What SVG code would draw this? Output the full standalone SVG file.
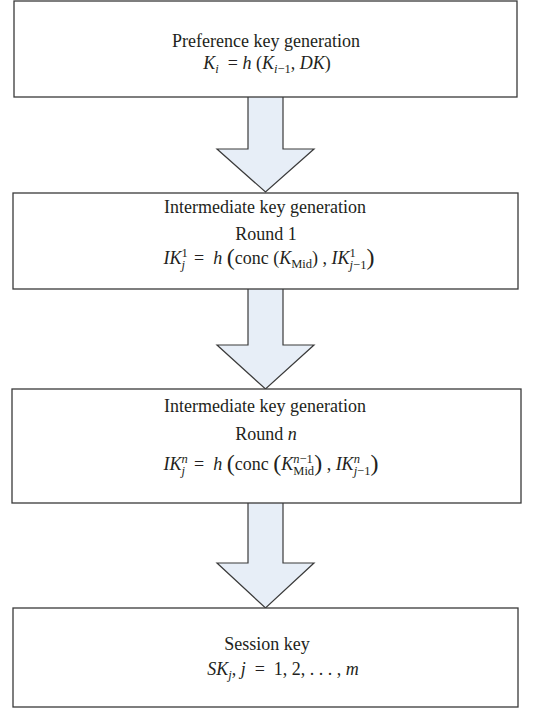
<svg xmlns="http://www.w3.org/2000/svg" width="544" height="708" viewBox="0 0 544 708">
<style>
.box{fill:#fff;stroke:#3a3a3a;stroke-width:1.3}
.arr{fill:#e7eef7;stroke:#3a3a3a;stroke-width:1.2;stroke-linejoin:miter}
text{font-family:"Liberation Serif","Times New Roman",serif;font-size:18px;fill:#231f20;text-anchor:middle}
.i{font-style:italic}
.s{font-size:12.5px}
.p{font-size:24px}
</style>
<rect width="544" height="708" fill="#fff"/>
<g id="connectors">
<path class="arr" d="M248,97 L248,149 L217,149 L265.5,192 L314,149 L283,149 L283,97"/>
<path class="arr" d="M248,289 L248,345 L217,345 L265.5,389 L314,345 L283,345 L283,289"/>
<path class="arr" d="M248,503 L248,563 L217,563 L265.5,608 L314,563 L283,563 L283,503"/>
</g>
<g id="node1">
<rect class="box" x="14" y="1" width="503" height="96"/>
<text x="266" y="47">Preference key generation</text>
<text x="267" y="69"><tspan class="i">K</tspan><tspan class="i s" dy="3.5">i</tspan><tspan dy="-3.5">&#160;&#160;=&#160;</tspan><tspan class="i">h</tspan>&#160;(<tspan class="i">K</tspan><tspan class="i s" dy="3.5">i</tspan><tspan class="s">−1</tspan><tspan dy="-3.5">, </tspan><tspan class="i">DK</tspan>)</text>
</g>
<g id="node2">
<rect class="box" x="13" y="193" width="505" height="96"/>
<text x="265" y="213">Intermediate key generation</text>
<text x="266" y="240">Round 1</text>
<text x="269" y="264"><tspan class="i">IK</tspan><tspan class="s" dy="-7">1</tspan><tspan class="i s" dx="-6.25" dy="11.5">j</tspan><tspan dy="-4.5">&#160;&#160;=&#160;&#160;</tspan><tspan class="i">h</tspan>&#160;<tspan class="p" dy="1">(</tspan><tspan dy="-1">conc&#160;(</tspan><tspan class="i">K</tspan><tspan class="s" dy="3.5">Mid</tspan><tspan dy="-3.5">)&#160;,&#160;</tspan><tspan class="i">IK</tspan><tspan class="s" dy="-7">1</tspan><tspan class="i s" dx="-6.25" dy="11.5">j</tspan><tspan class="s">−1</tspan><tspan class="p" dy="-3.5">)</tspan></text>
</g>
<g id="node3">
<rect class="box" x="12" y="389" width="509" height="114"/>
<text x="265" y="412">Intermediate key generation</text>
<text x="266" y="440">Round <tspan class="i">n</tspan></text>
<text x="271" y="470"><tspan class="i">IK</tspan><tspan class="i s" dy="-7">n</tspan><tspan class="i s" dx="-6.25" dy="11.5">j</tspan><tspan dy="-4.5">&#160;&#160;=&#160;&#160;</tspan><tspan class="i">h</tspan>&#160;<tspan class="p" dy="1">(</tspan><tspan dy="-1">conc&#160;</tspan><tspan class="p" dy="1">(</tspan><tspan class="i" dy="-1">K</tspan><tspan class="i s" dy="-7">n</tspan><tspan class="s">−1</tspan><tspan class="s" dx="-19.5" dy="11.5">Mid</tspan><tspan class="p" dy="-3.5">)</tspan><tspan dy="-1">&#160;,&#160;</tspan><tspan class="i">IK</tspan><tspan class="i s" dy="-7">n</tspan><tspan class="i s" dx="-6.25" dy="11.5">j</tspan><tspan class="s">−1</tspan><tspan class="p" dy="-3.5">)</tspan></text>
</g>
<g id="node4">
<rect class="box" x="13" y="608" width="505" height="99"/>
<text x="267" y="650">Session key</text>
<text x="283" y="675"><tspan class="i">SK</tspan><tspan class="i s" dy="3.5">j</tspan><tspan dy="-3.5">,&#160;</tspan><tspan class="i">j</tspan>&#160;&#160;=&#160;&#160;1,&#160;2,&#160;.&#160;.&#160;.&#160;,&#160;<tspan class="i">m</tspan></text>
</g>
</svg>
